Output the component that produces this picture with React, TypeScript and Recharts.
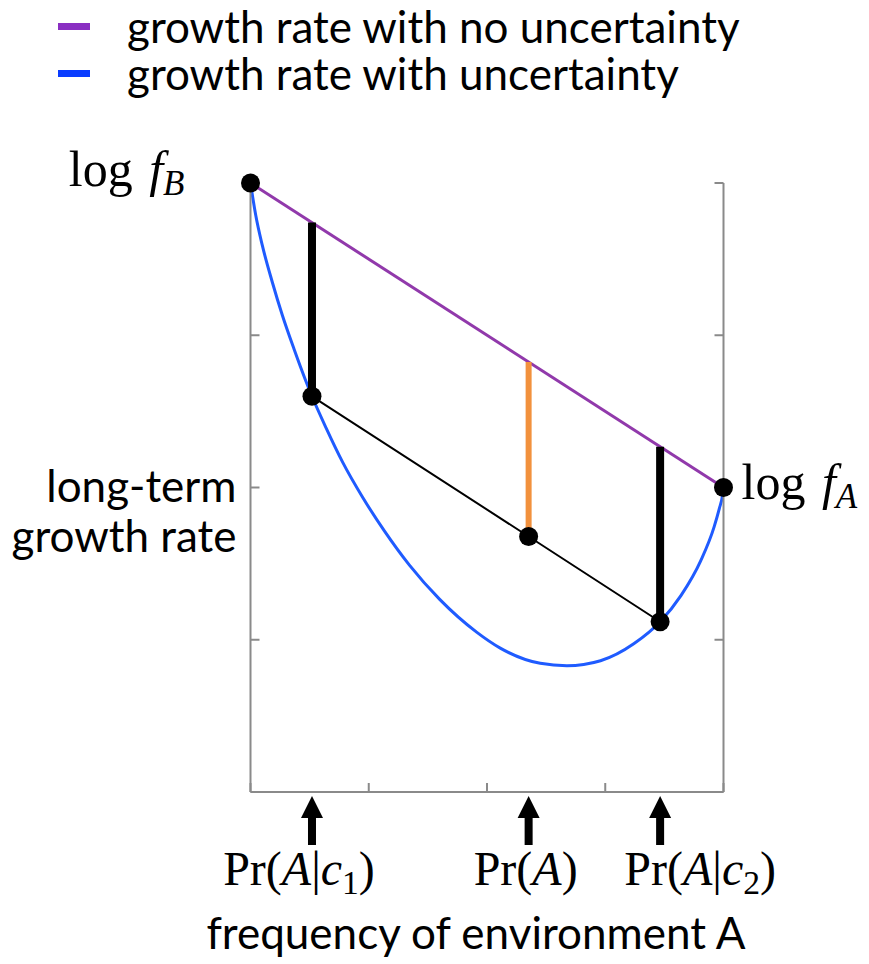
import { ComposedChart, Line, ReferenceDot, Scatter, XAxis, YAxis } from 'recharts'

// long-term growth rate against the frequency of environment A
const frequency = [0, 0.004, 0.011, 0.025, 0.046, 0.0675, 0.092, 0.117, 0.13, 0.16, 0.195, 0.237, 0.283, 0.336, 0.4, 0.478, 0.528, 0.6125, 0.669, 0.74, 0.811, 0.866, 0.91, 0.952, 0.98, 0.991, 0.998, 1]
const growthUncertain = [4.0, 3.92, 3.79, 3.59, 3.35, 3.13, 2.91, 2.7, 2.599, 2.39, 2.165, 1.936, 1.715, 1.49, 1.265, 1.05, 0.945, 0.845, 0.829, 0.862, 0.975, 1.118, 1.29, 1.52, 1.74, 1.86, 1.95, 2.0]

// pure strategies: log f_B at frequency 0, log f_A at frequency 1
const endFrequency = [0, 1]
const growthCertain = [4, 2]
const endLabels = ['B', 'A']

// cue-conditioned frequencies and the growth rates there
const cueFrequency = [0.13, 0.588, 0.866]
const cueGrowthUncertain = [2.599, 1.678, 1.118]
const cueGrowthCertain = [3.74, 2.824, 2.268]
const cueLabels = ['Pr(A|c1)', 'Pr(A)', 'Pr(A|c2)']

const xTicks = [0, 0.25, 0.5, 0.75, 1]
const yTicks = [0, 1, 2, 3, 4]

const legendNames = ['growth rate with no uncertainty', 'growth rate with uncertainty']

const PURPLE = '#9139ab'
const BLUE = '#1f5bff'
const ORANGE = '#f2913d'
const AXIS = '#8a8a8a'
const SANS = 'Lato, "Open Sans", sans-serif'
const SERIF = '"Liberation Serif", "DejaVu Serif", serif'

const barColors = ['#000', ORANGE, '#000']
const barWidths = [8, 6, 8]
const labelShift = [-13, -3, 40]

const curve = frequency.map((x, i) => ({ x, y: growthUncertain[i] }))
const straight = endFrequency.map((x, i) => ({ x, y: growthCertain[i] }))
const chord = cueFrequency.map((x, i) => ({ x, y: cueGrowthUncertain[i] }))
const gaps = cueFrequency.map((x, i) => [
  { x, y: cueGrowthUncertain[i] },
  { x, y: cueGrowthCertain[i] },
])
const dots = [...straight, ...chord]

// "Pr(A|c1)" -> upright Pr and brackets, italic variables, subscript digits
function mathParts(s: string) {
  const out: any[] = []
  const tokens = s.match(/Pr|[A-Za-z]|\d|./g) ?? []
  let shifted = false
  tokens.forEach((t, i) => {
    if (/^\d$/.test(t)) {
      out.push(<tspan key={i} fontSize="70%" dy={9}>{t}</tspan>)
      shifted = true
    } else {
      const italic = t !== 'Pr' && /^[A-Za-z]$/.test(t)
      out.push(
        <tspan key={i} fontStyle={italic ? 'italic' : 'normal'} dy={shifted ? -9 : 0}>
          {t}
        </tspan>,
      )
      shifted = false
    }
  })
  return out
}

function CueTick(props: any) {
  const { x, y, payload } = props
  const i = cueFrequency.indexOf(payload.value)
  if (i < 0) return <g />
  return (
    <g>
      <polygon points={`${x},${y + 4} ${x - 11},${y + 26} ${x + 11},${y + 26}`} fill="#000" />
      <rect x={x - 4} y={y + 24} width={8} height={29} fill="#000" />
      <text x={x + labelShift[i]} y={y + 93} textAnchor="middle" fontFamily={SERIF} fontSize={48} fill="#000">
        {mathParts(cueLabels[i])}
      </text>
    </g>
  )
}

function EndLabel(side: number) {
  return (props: any) => {
    const { viewBox } = props
    const cx = viewBox.x + viewBox.width / 2
    const cy = viewBox.y + viewBox.height / 2
    const left = side === 0
    return (
      <text
        x={left ? cx - 66 : cx + 18}
        y={cy + (left ? 3 : 11)}
        textAnchor={left ? 'end' : 'start'}
        fontFamily={SERIF}
        fontSize={50}
        fill="#000"
      >
        <tspan>log </tspan>
        <tspan fontStyle="italic" dx={4}>f</tspan>
        <tspan fontStyle="italic" fontSize="70%" dy={9}>{endLabels[side]}</tspan>
      </text>
    )
  }
}

const axisLine = { stroke: AXIS, strokeWidth: 2 }
const noLabel = () => <g />

export default function App() {
  return (
    <div style={{ position: 'absolute', left: 0, top: 0, width: 869, height: 964, background: '#fff' }}>
      <div style={{ position: 'absolute', left: 0, top: 0, fontFamily: SANS, fontSize: 44, lineHeight: '47px' }}>
        {legendNames.map((name, i) => (
          <div key={name} style={{ position: 'absolute', left: 58, top: 3 + i * 47, whiteSpace: 'nowrap', display: 'flex', alignItems: 'center' }}>
            <span style={{ display: 'inline-block', width: 32, height: 7, background: i === 0 ? '#8a2fc2' : '#0a3cff', marginRight: 37 }} />
            <span>{name}</span>
          </div>
        ))}
      </div>
      <ComposedChart
        width={869}
        height={964}
        margin={{ top: 183, right: 145.5, bottom: 171, left: 250.5 }}
        style={{ position: 'absolute', left: 0, top: 0 }}
      >
        <XAxis
          xAxisId="x"
          dataKey="x"
          type="number"
          domain={[0, 1]}
          ticks={xTicks}
          mirror
          height={1}
          tickSize={9}
          tick={noLabel}
          axisLine={axisLine}
          tickLine={axisLine}
          label={{
            content: (p: any) => (
              <text x={p.viewBox.x + p.viewBox.width / 2 - 11} y={p.viewBox.y + 158} textAnchor="middle" fontFamily={SANS} fontSize={44} fill="#000">
                frequency of environment A
              </text>
            ),
          }}
        />
        <XAxis
          xAxisId="cue"
          dataKey="x"
          type="number"
          domain={[0, 1]}
          ticks={cueFrequency}
          height={1}
          axisLine={false}
          tickLine={false}
          tickSize={0}
          tickMargin={0}
          interval={0}
          tick={<CueTick />}
        />
        <YAxis
          yAxisId="y"
          type="number"
          domain={[0, 4]}
          ticks={yTicks}
          width={1}
          mirror
          tickSize={9}
          tick={noLabel}
          axisLine={axisLine}
          tickLine={axisLine}
          label={{
            content: (p: any) => {
              const mid = p.viewBox.y + p.viewBox.height / 2
              return (
                <text textAnchor="end" fontFamily={SANS} fontSize={44} fill="#000">
                  <tspan x={p.viewBox.x - 14} y={mid + 14}>long-term</tspan>
                  <tspan x={p.viewBox.x - 14} y={mid + 64}>growth rate</tspan>
                </text>
              )
            },
          }}
        />
        <YAxis
          yAxisId="yr"
          orientation="right"
          type="number"
          domain={[0, 4]}
          ticks={yTicks}
          width={1}
          mirror
          tickSize={9}
          tick={noLabel}
          axisLine={axisLine}
          tickLine={axisLine}
        />
        <Line xAxisId="x" yAxisId="y" data={curve} dataKey="y" type="monotone" stroke={BLUE} strokeWidth={3} dot={false} isAnimationActive={false} />
        <Line xAxisId="x" yAxisId="yr" data={straight} dataKey="y" type="linear" stroke={PURPLE} strokeWidth={3} dot={false} isAnimationActive={false} />
        <Line xAxisId="cue" yAxisId="y" data={chord} dataKey="y" type="linear" stroke="#000" strokeWidth={2} dot={false} isAnimationActive={false} />
        {gaps.map((g, i) => (
          <Line
            key={i}
            xAxisId="x"
            yAxisId="y"
            data={g}
            dataKey="y"
            type="linear"
            stroke={barColors[i]}
            strokeWidth={barWidths[i]}
            strokeLinecap="butt"
            dot={false}
            isAnimationActive={false}
          />
        ))}
        <Scatter
          xAxisId="x"
          yAxisId="y"
          data={dots}
          dataKey="y"
          fill="#000"
          shape={(p: any) => <circle cx={p.cx} cy={p.cy} r={9.5} fill="#000" />}
          isAnimationActive={false}
        />
        {endFrequency.map((x, i) => (
          <ReferenceDot
            key={i}
            xAxisId="x"
            yAxisId="y"
            x={x}
            y={growthCertain[i]}
            r={0}
            stroke="none"
            label={{ content: EndLabel(i) }}
          />
        ))}
      </ComposedChart>
    </div>
  )
}
